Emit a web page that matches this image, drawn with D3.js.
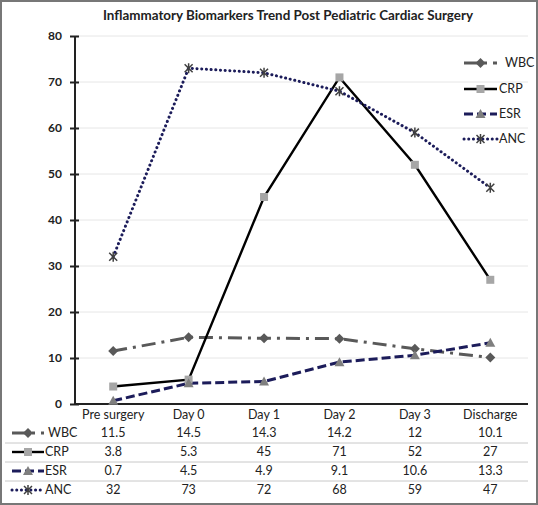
<!DOCTYPE html>
<html><head><meta charset="utf-8">
<script src="https://cdn.jsdelivr.net/npm/d3@7"></script>
<style>html,body{margin:0;padding:0;background:#fff}svg{display:block}</style>
</head><body>
<script>
const categories = ["Pre surgery","Day 0","Day 1","Day 2","Day 3","Discharge"];
const seriesNames = ["WBC","CRP","ESR","ANC"];
const wbc = [11.5,14.5,14.3,14.2,12,10.1];
const crp = [3.8,5.3,45,71,52,27];
const esr = [0.7,4.5,4.9,9.1,10.6,13.3];
const anc = [32,73,72,68,59,47];
const yTicks = [0,10,20,30,40,50,60,70,80];
const title = "Inflammatory Biomarkers Trend Post Pediatric Cardiac Surgery";

const W=538,H=505;
const font="Lato, 'Open Sans', sans-serif";
const svg=d3.select("body").append("svg").attr("width",W).attr("height",H);
svg.append("rect").attr("x",0).attr("y",0).attr("width",W).attr("height",H).attr("fill","#fff");

const x=d3.scaleBand().domain(categories).range([75.5,528]).padding(0);
const cx=c=>x(c)+x.bandwidth()/2;
const y=d3.scaleLinear().domain([0,80]).range([404,36]);

// gridlines
svg.append("g").selectAll("line").data(yTicks.filter(t=>t>0)).join("line")
 .attr("x1",76).attr("x2",528).attr("y1",d=>y(d)).attr("y2",d=>y(d))
 .attr("stroke","#e6e6e6").attr("stroke-width",1);

// y axis
const yAxis=d3.axisLeft(y).tickValues(yTicks).tickSize(5).tickPadding(8);
const ga=svg.append("g").attr("transform","translate(75,0)").call(yAxis);
ga.select(".domain").attr("stroke","#222").attr("stroke-width",2).attr("d","M0,"+y(80)+"V"+y(0));
ga.selectAll(".tick line").attr("stroke","#222").attr("stroke-width",2).attr("x1",4);
ga.selectAll(".tick text").attr("font-family",font).attr("font-weight","bold").attr("font-size",12).attr("fill","#222");
// x axis line
svg.append("line").attr("x1",75).attr("x2",528).attr("y1",y(0)).attr("y2",y(0)).attr("stroke","#222").attr("stroke-width",2);

const series=[
 {name:"WBC",values:wbc,color:"#595959",width:3,dash:"14,6,3,6",marker:"diamond",mfill:"#595959"},
 {name:"CRP",values:crp,color:"#000",width:2.4,dash:null,marker:"square",mfill:"#a6a6a6"},
 {name:"ESR",values:esr,color:"#1c1c5a",width:3,dash:"9,4",marker:"triangle",mfill:"#7f7f7f"},
 {name:"ANC",values:anc,color:"#1c1c5a",width:3,dash:"0.1,4.6",marker:"star",mfill:"#404040",cap:"round"}
];

function drawMarker(g,type,px,py,fill){
  if(type==="diamond") g.append("path").attr("d",`M${px},${py-5}L${px+5},${py}L${px},${py+5}L${px-5},${py}Z`).attr("fill",fill);
  else if(type==="square") g.append("rect").attr("x",px-4).attr("y",py-4).attr("width",8).attr("height",8).attr("fill",fill);
  else if(type==="triangle") g.append("path").attr("d",`M${px},${py-5}L${px+5},${py+4}L${px-5},${py+4}Z`).attr("fill",fill);
  else if(type==="star") g.append("path").attr("d",`M${px-4},${py-4}L${px+4},${py+4}M${px+4},${py-4}L${px-4},${py+4}M${px},${py-5}L${px},${py+5}`).attr("stroke",fill).attr("stroke-width",1.5).attr("fill","none");
}

const line=d3.line().x((d,i)=>cx(categories[i])).y(d=>y(d));
series.forEach(s=>{
  svg.append("path").datum(s.values).attr("d",line).attr("fill","none")
   .attr("stroke",s.color).attr("stroke-width",s.width)
   .attr("stroke-dasharray",s.dash).attr("stroke-linecap",s.cap||"butt");
});
series.forEach(s=>{
  const g=svg.append("g");
  s.values.forEach((v,i)=>drawMarker(g,s.marker,cx(categories[i]),y(v),s.mfill));
});

function legendSym(g,s,x1,x2,yy){
  g.append("line").attr("x1",x1).attr("x2",x2).attr("y1",yy).attr("y2",yy)
   .attr("stroke",s.color).attr("stroke-width",s.width).attr("stroke-dasharray",s.dash).attr("stroke-linecap",s.cap||"butt");
  drawMarker(g,s.marker,(x1+x2)/2,yy,s.mfill);
}

// right legend
const legY=[63,89,114,139];
series.forEach((s,i)=>{
  const g=svg.append("g");
  legendSym(g,s,464,497,legY[i]);
  g.append("text").attr("x",i===0?505:499).attr("y",legY[i]).attr("dy","0.35em")
   .attr("font-family",font).attr("font-size",12.5).attr("fill","#222").text(s.name);
});

// table
svg.append("g").selectAll("text").data(categories).join("text")
 .attr("x",d=>cx(d)).attr("y",415).attr("dy","0.35em").attr("text-anchor","middle")
 .attr("font-family",font).attr("font-size",12.5).attr("fill","#222").text(d=>d);
const rowY=[433,452,471,490];
[443,462,481].forEach(yy=>svg.append("line").attr("x1",5).attr("x2",528).attr("y1",yy).attr("y2",yy).attr("stroke","#c8c8c8").attr("stroke-width",1));
series.forEach((s,i)=>{
  const g=svg.append("g");
  legendSym(g,s,12,44,rowY[i]);
  g.append("text").attr("x",i===0?48:45).attr("y",rowY[i]).attr("dy","0.35em")
   .attr("font-family",font).attr("font-size",12.5).attr("fill","#222").text(s.name);
  g.selectAll("text.v").data(s.values).join("text").attr("class","v")
   .attr("x",(d,j)=>cx(categories[j])).attr("y",rowY[i]).attr("dy","0.35em").attr("text-anchor","middle")
   .attr("font-family",font).attr("font-size",12.5).attr("fill","#222").text(d=>d);
});

// title
svg.append("text").attr("x",288).attr("y",15).attr("dy","0.35em").attr("text-anchor","middle")
 .attr("font-family",font).attr("font-weight","bold").attr("font-size",13.4).attr("fill","#222").text(title);

// frame
svg.append("rect").attr("x",1).attr("y",1).attr("width",W-2).attr("height",H-2)
 .attr("fill","none").attr("stroke","#777").attr("stroke-width",2);
</script>
</body></html>
